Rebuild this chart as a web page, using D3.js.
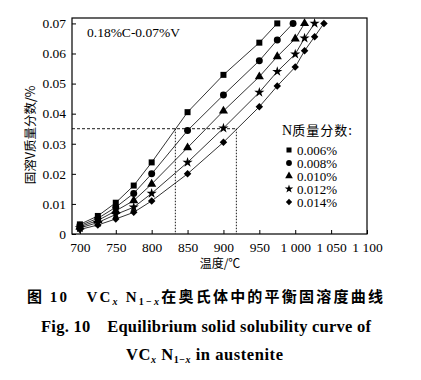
<!DOCTYPE html>
<html>
<head>
<meta charset="utf-8">
<script src="https://cdn.jsdelivr.net/npm/d3@7"></script>
<style>
  body { margin: 0; background: #fff; }
</style>
</head>
<body>
<div id="chart"></div>
<script>
// series data (temperature in degC, dissolved V mass fraction in %)
var nLabels = ["0.006%", "0.008%", "0.010%", "0.012%", "0.014%"];
var temps0 = [700, 725, 750, 775, 800, 850, 900, 950, 975];
var vals0  = [0.0032, 0.0060, 0.0104, 0.0161, 0.0238, 0.0405, 0.0529, 0.0636, 0.0700];
var temps1 = [700, 725, 750, 775, 800, 850, 900, 950, 975, 997];
var vals1  = [0.0028, 0.0052, 0.0089, 0.0135, 0.0200, 0.0344, 0.0462, 0.0576, 0.0645, 0.0700];
var temps2 = [700, 725, 750, 775, 800, 850, 900, 950, 975, 1000, 1013];
var vals2  = [0.0024, 0.0045, 0.0077, 0.0111, 0.0166, 0.0287, 0.0409, 0.0523, 0.0590, 0.0649, 0.0700];
var temps3 = [700, 725, 750, 775, 800, 850, 900, 950, 975, 1000, 1013, 1027];
var vals3  = [0.0020, 0.0038, 0.0065, 0.0089, 0.0135, 0.0238, 0.0352, 0.0471, 0.0540, 0.0598, 0.0651, 0.0700];
var temps4 = [700, 725, 750, 775, 800, 850, 900, 950, 975, 1000, 1013, 1027, 1040];
var vals4  = [0.0015, 0.0030, 0.0050, 0.0072, 0.0110, 0.0200, 0.0305, 0.0423, 0.0492, 0.0555, 0.0609, 0.0656, 0.0700];

var xTicks = [700, 750, 800, 850, 900, 950, 1000, 1050, 1100];
var yTicks = [0, 0.01, 0.02, 0.03, 0.04, 0.05, 0.06, 0.07];

// reference lines: V = 0.035 reached at these temperatures
var refV = 0.035;
var refTemps = [833, 918];

var SERIF = "'Liberation Serif', Tinos, 'DejaVu Serif', serif";
var CJK = "'Noto Sans CJK SC', sans-serif";

var width = 421, height = 380;
var svg = d3.select("#chart").append("svg")
    .attr("width", width).attr("height", height)
    .style("font-family", SERIF);

var x = d3.scaleLinear().domain([689, 1100]).range([72, 367]);
var y = d3.scaleLinear().domain([0, 0.0718]).range([234, 18]);

var spaceFmt = d3.formatLocale({decimal: ".", thousands: " ", grouping: [3], currency: ["", ""]}).format(",");

// plot frame
svg.append("rect")
    .attr("x", x.range()[0]).attr("y", y.range()[1])
    .attr("width", x.range()[1] - x.range()[0])
    .attr("height", y.range()[0] - y.range()[1])
    .attr("fill", "none").attr("stroke", "#000").attr("stroke-width", 1.2);

// axes, ticks inward
var xAxis = svg.append("g")
    .attr("transform", "translate(0," + y.range()[0] + ")")
    .call(d3.axisBottom(x).tickValues(xTicks).tickSizeInner(-4).tickSizeOuter(0).tickPadding(8).tickFormat(spaceFmt));
xAxis.select(".domain").remove();
xAxis.attr("font-family", null).attr("font-size", null);
xAxis.selectAll("text").style("font-family", SERIF).style("font-size", "13.5px");

var yAxis = svg.append("g")
    .attr("transform", "translate(" + x.range()[0] + ",0)")
    .call(d3.axisLeft(y).tickValues(yTicks).tickSizeInner(-4).tickSizeOuter(0).tickPadding(6)
        .tickFormat(function(d) { return d === 0 ? "0" : d3.format(".2f")(d); }));
yAxis.select(".domain").remove();
yAxis.attr("font-family", null).attr("font-size", null);
yAxis.selectAll("text").style("font-family", SERIF).style("font-size", "13.5px");

// dashed reference lines
svg.append("line")
    .attr("x1", x.range()[0]).attr("x2", x(refTemps[1]))
    .attr("y1", y(refV)).attr("y2", y(refV))
    .attr("stroke", "#000").attr("stroke-width", 0.9).attr("stroke-dasharray", "3,2");
svg.selectAll(".vref").data(refTemps).enter().append("line")
    .attr("x1", function(d) { return x(d); }).attr("x2", function(d) { return x(d); })
    .attr("y1", y(refV)).attr("y2", y(0))
    .attr("stroke", "#000").attr("stroke-width", 0.9).attr("stroke-dasharray", "1.5,1.5");

// series
var series = [
    {t: temps0, v: vals0, sym: d3.symbolSquare, size: 36, rot: 0},
    {t: temps1, v: vals1, sym: d3.symbolCircle, size: 38, rot: 0},
    {t: temps2, v: vals2, sym: d3.symbolTriangle, size: 36, rot: 0},
    {t: temps3, v: vals3, sym: d3.symbolStar, size: 32, rot: 0},
    {t: temps4, v: vals4, sym: d3.symbolSquare, size: 28, rot: 45}
];

var line = d3.line()
    .x(function(d) { return x(d[0]); })
    .y(function(d) { return y(d[1]); });

series.forEach(function(s) {
    var pts = d3.zip(s.t, s.v);
    svg.append("path")
        .attr("d", line(pts))
        .attr("fill", "none").attr("stroke", "#000").attr("stroke-width", 0.8);
    svg.selectAll(null).data(pts).enter().append("path")
        .attr("d", d3.symbol().type(s.sym).size(s.size))
        .attr("transform", function(d) {
            return "translate(" + x(d[0]) + "," + y(d[1]) + ") rotate(" + s.rot + ")";
        })
        .attr("fill", "#000");
});

// annotation
svg.append("text")
    .attr("x", 87).attr("y", 37)
    .style("font-size", "13.5px")
    .text("0.18%C-0.07%V");

// legend
var legTitle = svg.append("text")
    .attr("x", 282).attr("y", 135)
    .style("font-size", "14px");
legTitle.append("tspan").text("N");
legTitle.append("tspan").style("font-family", CJK).style("font-size", "13px")
    .attr("letter-spacing", 1).text("质量分数:");

var legend = svg.selectAll(".leg").data(series).enter().append("g")
    .attr("transform", function(d, i) { return "translate(289," + (150 + i * 13) + ")"; });
legend.append("path")
    .attr("d", function(d) { return d3.symbol().type(d.sym).size(d.size * 0.7)(); })
    .attr("transform", function(d) { return "rotate(" + d.rot + ")"; })
    .attr("fill", "#000");
legend.append("text")
    .attr("x", 8).attr("y", 4.5)
    .style("font-size", "13px")
    .text(function(d, i) { return nLabels[i]; });

// axis titles
svg.append("text")
    .attr("transform", "translate(35,135) rotate(-90)")
    .attr("text-anchor", "middle")
    .style("font-family", CJK).style("font-size", "12.5px")
    .text("固溶V质量分数/%");

svg.append("text")
    .attr("x", 220).attr("y", 268)
    .attr("text-anchor", "middle")
    .style("font-family", CJK).style("font-size", "12px")
    .text("温度/℃");

// caption
var cap1 = svg.append("text")
    .attr("x", 27).attr("y", 302)
    .attr("textLength", 356).attr("lengthAdjust", "spacing")
    .style("font-weight", "bold")
    .style("font-size", "15px");
cap1.append("tspan").style("font-family", CJK).text("图 ");
cap1.append("tspan").text("10\u2003VC");
cap1.append("tspan").style("font-style", "italic").style("font-size", "10px").attr("dy", 3).text("x");
cap1.append("tspan").attr("dy", -3).text(" N");
cap1.append("tspan").style("font-size", "10px").attr("dy", 3).text("1\u2212");
cap1.append("tspan").style("font-style", "italic").style("font-size", "10px").text("x");
cap1.append("tspan").style("font-family", CJK).attr("dy", -3).text("在奥氏体中的平衡固溶度曲线");

svg.append("text")
    .attr("x", 41).attr("y", 332)
    .attr("textLength", 330).attr("lengthAdjust", "spacing")
    .style("font-weight", "bold")
    .style("font-size", "16.5px")
    .text("Fig. 10\u2003Equilibrium solid solubility curve of");

var cap3 = svg.append("text")
    .attr("x", 126).attr("y", 360)
    .attr("textLength", 157).attr("lengthAdjust", "spacing")
    .style("font-weight", "bold")
    .style("font-size", "16.5px");
cap3.append("tspan").text("VC");
cap3.append("tspan").style("font-style", "italic").style("font-size", "10px").attr("dy", 3).text("x");
cap3.append("tspan").attr("dy", -3).text(" N");
cap3.append("tspan").style("font-size", "10px").attr("dy", 3).text("1\u2212");
cap3.append("tspan").style("font-style", "italic").style("font-size", "10px").text("x");
cap3.append("tspan").attr("dy", -3).text("  in austenite");
</script>
</body>
</html>
